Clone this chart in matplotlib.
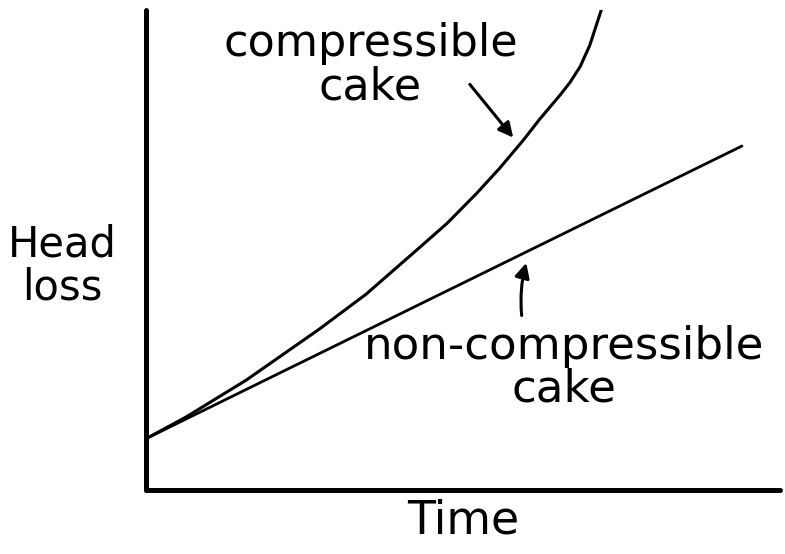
import matplotlib.pyplot as plt

# (arbitrary units, time 0..10, head loss 0..10)
time_comp = [0, 0.63, 1.58, 2.73, 3.47, 4.32, 4.75, 5.22, 5.58, 5.95, 6.21,
             6.53, 6.69, 6.85, 7.00, 7.18]
loss_comp = [1.07, 1.52, 2.29, 3.35, 4.08, 5.06, 5.56, 6.19, 6.71, 7.29, 7.73,
             8.23, 8.50, 8.83, 9.27, 10.0]
time_lin = [0, 9.40]
loss_lin = [1.07, 7.17]

fig = plt.figure(figsize=(7.85, 5.54), dpi=100)
ax = fig.add_axes([0.186, 0.1155, 0.8076, 0.866])

ax.plot(time_comp, loss_comp, color='black', lw=2.2, solid_capstyle='round',
        solid_joinstyle='round')
ax.plot(time_lin, loss_lin, color='black', lw=2.0, solid_capstyle='round')

ax.set_xlim(0, 10)
ax.set_ylim(0, 10)
for s in ['top', 'right']:
    ax.spines[s].set_visible(False)
for s in ['left', 'bottom']:
    ax.spines[s].set_linewidth(3.6)
    ax.spines[s].set_capstyle('round')
ax.set_xticks([])
ax.set_yticks([])

ax.set_xlabel('Time', fontsize=33, labelpad=6)
fig.text(0.079, 0.52, 'Head\nloss', fontsize=30, ha='center', va='center',
         linespacing=1.05)

arrow = dict(arrowstyle='-|>', color='black', lw=2.2, mutation_scale=22)
ax.annotate('', xy=(5.82, 7.3), xytext=(5.08, 8.5), arrowprops=arrow)
ax.annotate('', xy=(6.01, 4.79), xytext=(5.93, 3.58),
            arrowprops=dict(arrow, connectionstyle='arc3,rad=-0.1'))

ax.text(3.54, 8.85, 'compressible\ncake', fontsize=32, ha='center', va='center',
        linespacing=1.0)
ax.text(6.6, 2.55, 'non-compressible\ncake', fontsize=32.5, ha='center',
        va='center', linespacing=1.0)

fig.savefig('out.png', dpi=100)
